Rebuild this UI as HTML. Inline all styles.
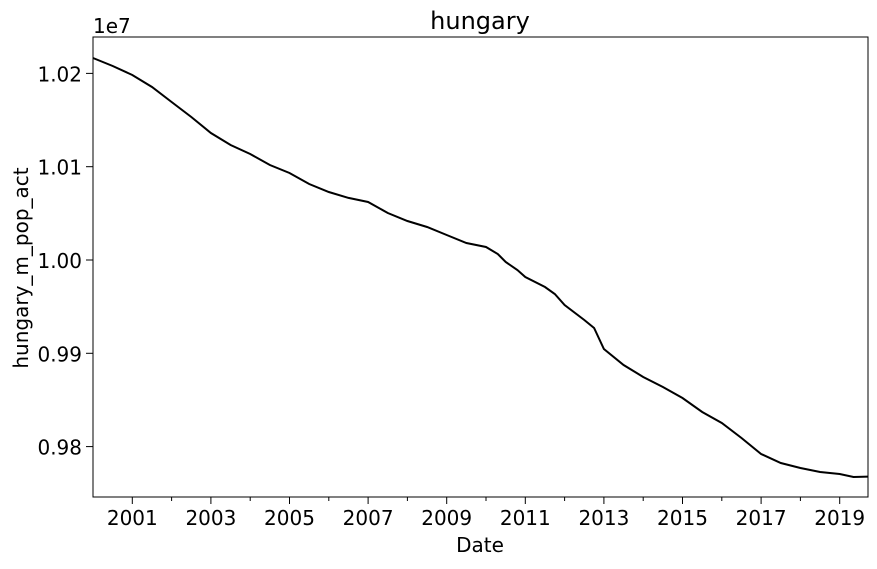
<!DOCTYPE html>
<html><head><meta charset="utf-8"><style>
body{margin:0;background:#fff;}
svg text{font-family:"DejaVu Sans","Liberation Sans",sans-serif;fill:#000;}
</style></head><body>
<svg id="chart" width="877" height="564">
<text x="480" y="29" font-size="24" text-anchor="middle">hungary</text>
<text x="93" y="33" font-size="20">1e7</text>
<text x="480" y="552" font-size="20" text-anchor="middle">Date</text>
<text transform="translate(28,268) rotate(-90)" font-size="20" text-anchor="middle">hungary_m_pop_act</text>
<g id="axes"></g>
<path id="line" fill="none" stroke="#000" stroke-width="2"></path>
<rect x="93" y="37" width="775" height="460" fill="none" stroke="#000" stroke-width="1"></rect>
</svg>
<script>
const years=[2000.0,2000.5,2001.0,2001.5,2002.0,2002.5,2003.0,2003.5,2004.0,2004.5,2005.0,2005.5,2006.0,2006.5,2007.0,2007.5,2008.0,2008.5,2009.0,2009.5,2010.0,2010.3,2010.5,2010.8,2011.0,2011.5,2011.75,2012.0,2012.5,2012.75,2013.0,2013.5,2014.0,2014.5,2015.0,2015.5,2016.0,2016.5,2017.0,2017.5,2018.0,2018.5,2019.0,2019.35,2019.72];
const population=[10216500,10207900,10198300,10185400,10169300,10153300,10136100,10123300,10113600,10101800,10093200,10081500,10072900,10066500,10062200,10050400,10041800,10035400,10026800,10018200,10013900,10006400,9997900,9989300,9981800,9971100,9963600,9951800,9935700,9927100,9904600,9887500,9874600,9863900,9852100,9837100,9825300,9809200,9792100,9782400,9777100,9772800,9770600,9767400,9767800];
const yTicks=[9800000,9900000,10000000,10100000,10200000];
const yTickLabels=["0.98","0.99","1.00","1.01","1.02"];
const xTicks=[2001,2003,2005,2007,2009,2011,2013,2015,2017,2019];
const xMinor=[2002,2004,2006,2008,2010,2012,2014,2016,2018];
const L=93,R=868,T=37,B=497;
const x0=2000.0,x1=2019.72,y0=9745980,y1=10239000;
const sx=v=>L+(v-x0)/(x1-x0)*(R-L);
const sy=v=>B-(v-y0)/(y1-y0)*(B-T);
const ns="http://www.w3.org/2000/svg";
const ax=document.getElementById('axes');
function mk(tag,attrs){const e=document.createElementNS(ns,tag);for(const k in attrs)e.setAttribute(k,attrs[k]);ax.appendChild(e);return e;}
yTicks.forEach((v,i)=>{
  const t=mk('line',{x1:L-7,x2:L,y1:sy(v),y2:sy(v),stroke:'#000'});
  
  
  const l=mk('text',{x:L-11,y:sy(v)+8,'font-size':20,'text-anchor':'end'});
  l.textContent=yTickLabels[i];
  
  
});
xTicks.forEach(v=>{
  const t=mk('line',{x1:sx(v),x2:sx(v),y1:B,y2:B+7,stroke:'#000'});
  
  
  const l=mk('text',{x:sx(v),y:B+28,'font-size':20,'text-anchor':'middle'});
  l.textContent=String(v);
  
  
});
xMinor.forEach(v=>{
  const t=mk('line',{x1:sx(v),x2:sx(v),y1:B,y2:B+4,stroke:'#000'});
  
  
});
document.getElementById('line').setAttribute('d',years.map((v,i)=>(i?'L':'M')+sx(v).toFixed(1)+','+sy(population[i]).toFixed(1)).join(''));
</script>
</body></html>
